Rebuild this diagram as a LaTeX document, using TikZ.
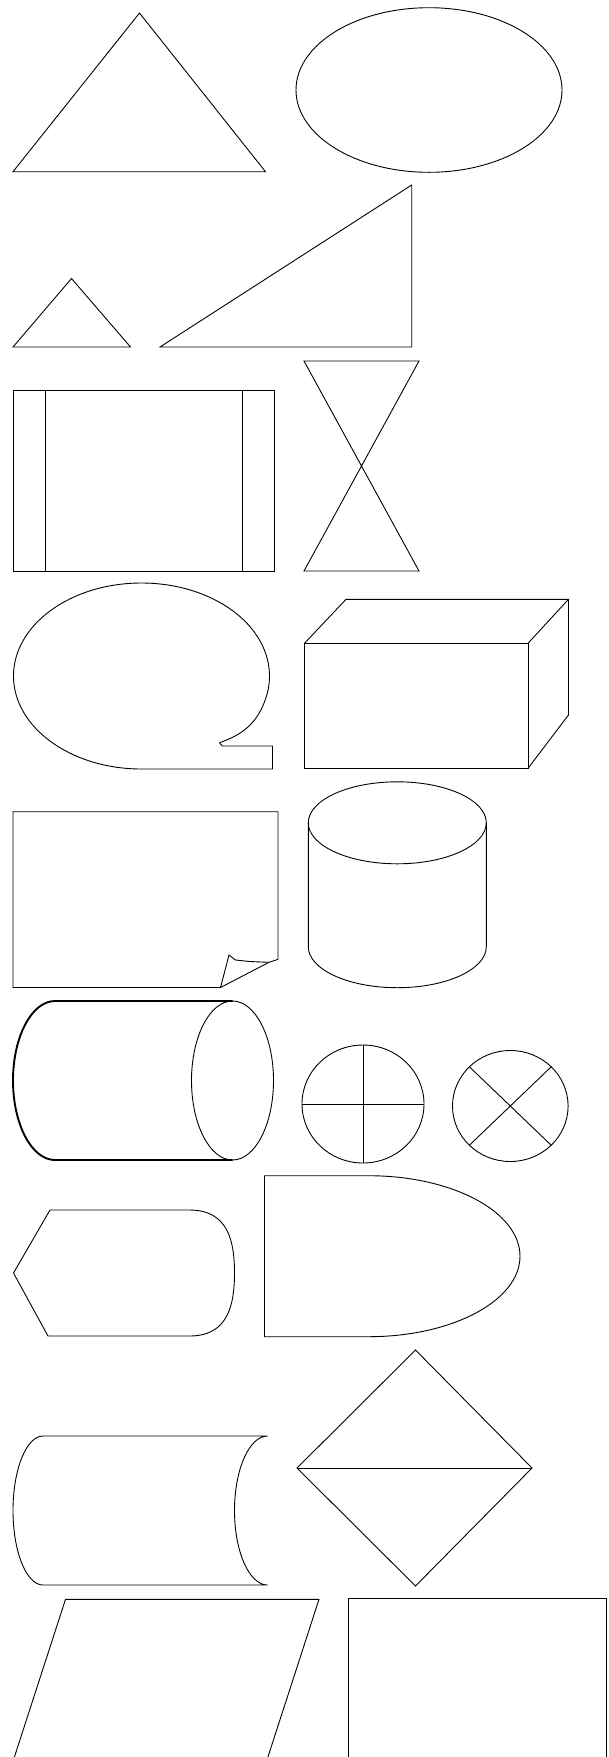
\documentclass[tikz,border=0pt]{standalone}
\begin{document}
\begin{tikzpicture}[x=1pt,y=1pt,
  shp/.style={draw=black,line width=0.9pt,line join=miter},
  bold/.style={draw=black,line width=1.9pt,line join=round}]
\useasboundingbox (0,0) rectangle (609,-1757);
\clip (0,0) rectangle (609,-1757);
% row 1
\draw[shp] (139.5,-13) -- (265.5,-171.7) -- (13,-171.7) -- cycle;
\draw[shp] (429,-90) ellipse [x radius=133, y radius=82.3];
% row 2
\draw[shp] (71.5,-278.5) -- (130.5,-347) -- (13,-347) -- cycle;
\draw[shp] (160,-347) -- (411.7,-185) -- (411.7,-347) -- cycle;
% row 3
\draw[shp] (13,-390.7) rectangle (274,-571);
\draw[shp] (45.2,-390.7) -- (45.2,-571);
\draw[shp] (242.5,-390.7) -- (242.5,-571);
\draw[shp] (304,-361) -- (419,-361) -- (304,-571) -- (419,-571) -- cycle;
% row 4
\draw[shp] (219.5,-742.7) -- (222.2,-746) -- (272.5,-746) -- (272.5,-769) -- (141.5,-769)
  arc[start angle=270, end angle=-15, x radius=128, y radius=93]
  .. controls (255.5,-728) and (235.5,-737) .. (219.5,-742.7);
\draw[shp] (304.5,-643.3) rectangle (528,-768.3);
\draw[shp] (304.5,-643.3) -- (346,-599.3) -- (568.5,-599.3) -- (528,-643.3);
\draw[shp] (568.5,-599.3) -- (568.5,-715) -- (528,-768.3);
% row 5
\draw[shp] (278,-959.3) -- (278,-811.7) -- (13,-811.7) -- (13,-987.5) -- (220.5,-987.5) -- (269,-962.3) -- (278,-959.3);
\draw[shp] (220.5,-987.5) -- (229,-955) -- (235.5,-960) -- (249.5,-961.5) -- (269,-962.3);
\draw[shp] (397.3,-822.8) ellipse [x radius=89, y radius=41];
\draw[shp] (308.3,-822.8) -- (308.3,-946.7)
  arc[start angle=180, end angle=360, x radius=89, y radius=41] -- (486.3,-822.8);
% row 6
\draw[bold] (232.5,-1001) -- (55,-1001)
  arc[start angle=90, end angle=270, x radius=42, y radius=79.5] -- (232.5,-1160);
\draw[shp] (232.5,-1080.5) ellipse [x radius=41, y radius=79.5];
\draw[shp] (363,-1104) ellipse [x radius=61, y radius=59];
\draw[shp] (363,-1045) -- (363,-1163);
\draw[shp] (302,-1104) -- (424,-1104);
\draw[shp] (510.3,-1106) ellipse [x radius=57.8, y radius=55.5];
\draw[shp] (469.4,-1066.8) -- (551.2,-1145.2);
\draw[shp] (551.2,-1066.8) -- (469.4,-1145.2);
% row 7
\draw[shp] (50,-1210) -- (189.5,-1210)
  .. controls (227.5,-1210) and (234.5,-1240) .. (234.5,-1273)
  .. controls (234.5,-1306) and (227.5,-1336) .. (189.5,-1336)
  -- (48,-1336) -- (13.5,-1273) -- cycle;
\draw[shp] (264.5,-1175.7) -- (368.5,-1175.7)
  arc[start angle=90, end angle=-90, x radius=151.5, y radius=80.5]
  -- (264.5,-1336.7) -- cycle;
% row 8
\draw[shp] (43,-1436) -- (267.5,-1436)
  arc[start angle=90, end angle=270, x radius=33, y radius=74.5]
  -- (43,-1585)
  arc[start angle=270, end angle=90, x radius=30, y radius=74.5] -- cycle;
\draw[shp] (415.5,-1350) -- (532,-1468) -- (415.5,-1586) -- (297,-1468) -- cycle;
\draw[shp] (297,-1468) -- (532,-1468);
% row 9
\draw[shp] (10.2,-1770) -- (65.5,-1599.3) -- (319,-1599.3) -- (263.7,-1770);
\draw[shp] (348.5,-1770) -- (348.5,-1598.3) -- (606,-1598.3) -- (606,-1770);
\end{tikzpicture}
\end{document}
